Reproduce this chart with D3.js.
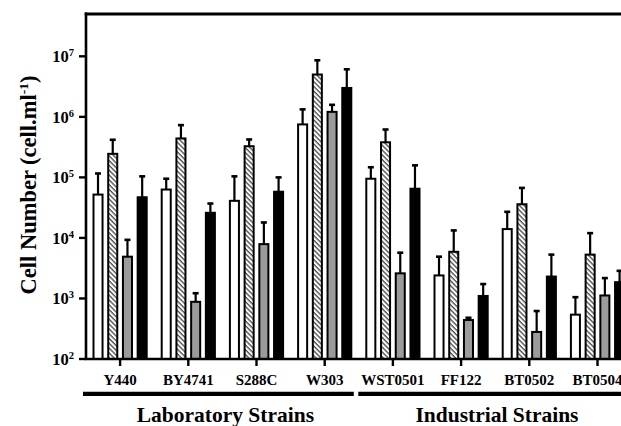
<!DOCTYPE html>
<html>
<head>
<meta charset="utf-8">
<script src="https://cdn.jsdelivr.net/npm/d3@7"></script>
<style>
  html, body { margin: 0; padding: 0; background: #fff; }
  svg { display: block; }
  text { font-family: "Liberation Serif", "Times New Roman", serif; font-weight: bold; fill: #000; }
</style>
</head>
<body>
<div id="chart"></div>
<script>
// Strains (x categories)
const strains = ["Y440", "BY4741", "S288C", "W303", "WST0501", "FF122", "BT0502", "BT0504"];
const series = ["white", "hatched", "grey", "black"];

// Mean cell numbers (cell/ml), per series
const whiteVals   = [52000, 63000, 41000, 750000, 95000, 2400, 14000, 540];
const hatchedVals = [245000, 440000, 327000, 5000000, 380000, 5900, 36000, 5300];
const greyVals    = [4900, 880, 7900, 1210000, 2600, 440, 280, 1120];
const blackVals   = [47000, 26000, 58000, 3000000, 65000, 1100, 2300, 1860];

// Upper end of the error bars
const whiteErr   = [116000, 95000, 104000, 1330000, 147000, 4900, 27000, 1050];
const hatchedErr = [418000, 730000, 423000, 8600000, 618000, 13300, 67000, 12000];
const greyErr    = [9300, 1220, 18000, 1580000, 5700, 480, 620, 2170];
const blackErr   = [104000, 37000, 100000, 6100000, 158000, 1730, 5300, 2860];

const yTicks = [2, 3, 4, 5, 6, 7];
const groups = [
  {label: "Laboratory Strains", from: "Y440", to: "W303"},
  {label: "Industrial Strains", from: "WST0501", to: "BT0504"}
];

const W = 621, H = 426;
const svg = d3.select("#chart").append("svg")
  .attr("width", W).attr("height", H);

const defs = svg.append("defs");
const pat = defs.append("pattern")
  .attr("id", "hatch")
  .attr("patternUnits", "userSpaceOnUse")
  .attr("width", 3.4).attr("height", 3.4)
  .attr("patternTransform", "rotate(-45)");
pat.append("rect").attr("width", 3.4).attr("height", 3.4).attr("fill", "#fff");
pat.append("line")
  .attr("x1", 1).attr("y1", 0).attr("x2", 1).attr("y2", 3.4)
  .attr("stroke", "#444").attr("stroke-width", 1.3);

// Scales
const plotLeft = 86, plotTop = 14, plotBottom = 359;
const step = 68.2;
const x = d3.scaleBand().domain(strains).range([plotLeft, plotLeft + step * strains.length]);
const xInner = d3.scaleBand().domain(series).range([6.5, step - 6.5]).paddingInner(0.25);
const y = d3.scaleLog().domain([100, 5e7]).range([plotBottom, plotTop]);

const fills = {white: "#fff", hatched: "url(#hatch)", grey: "#9b9b9b", black: "#000"};
const vals = {white: whiteVals, hatched: hatchedVals, grey: greyVals, black: blackVals};
const errs = {white: whiteErr, hatched: hatchedErr, grey: greyErr, black: blackErr};

const bars = [];
strains.forEach((s, i) => {
  series.forEach(k => bars.push({strain: s, key: k, value: vals[k][i], upper: errs[k][i]}));
});
const cx = d => x(d.strain) + xInner(d.key) + xInner.bandwidth() / 2;

// Error bars (drawn first so the bar outline sits on top)
const eb = svg.append("g");
eb.selectAll("line.stem").data(bars).enter().append("line")
  .attr("x1", cx).attr("x2", cx)
  .attr("y1", d => y(d.value))
  .attr("y2", d => y(d.upper))
  .attr("stroke", "#000").attr("stroke-width", 2.2);
eb.selectAll("line.cap").data(bars).enter().append("line")
  .attr("x1", d => cx(d) - 3)
  .attr("x2", d => cx(d) + 3)
  .attr("y1", d => y(d.upper))
  .attr("y2", d => y(d.upper))
  .attr("stroke", "#000").attr("stroke-width", 2.6);

// Bars
svg.append("g").selectAll("rect").data(bars).enter().append("rect")
  .attr("x", d => x(d.strain) + xInner(d.key) + 1)
  .attr("width", xInner.bandwidth() - 2)
  .attr("y", d => y(d.value))
  .attr("height", d => y(100) - y(d.value))
  .attr("fill", d => fills[d.key])
  .attr("stroke", "#000").attr("stroke-width", 2);

// Axes
const ax = svg.append("g").attr("stroke", "#000");
ax.append("line").attr("x1", plotLeft).attr("x2", plotLeft).attr("y1", plotTop - 1.5).attr("y2", plotBottom + 1)
  .attr("stroke-width", 2.6);
ax.append("line").attr("x1", plotLeft - 1.3).attr("x2", W).attr("y1", plotTop).attr("y2", plotTop)
  .attr("stroke-width", 3);
ax.append("line").attr("x1", plotLeft - 1.3).attr("x2", W).attr("y1", plotBottom).attr("y2", plotBottom)
  .attr("stroke-width", 2.6);

// y ticks
yTicks.forEach(p => {
  const yy = y(Math.pow(10, p));
  ax.append("line").attr("x1", plotLeft - 7).attr("x2", plotLeft).attr("y1", yy).attr("y2", yy)
    .attr("stroke-width", 2.4);
  const t = svg.append("text")
    .attr("x", 74).attr("y", yy + 6)
    .attr("text-anchor", "end")
    .style("font-size", "16.5px");
  t.append("tspan").text("10");
  t.append("tspan").attr("dy", -6).style("font-size", "10.5px").text(p);
});

// x ticks and labels
strains.forEach(s => {
  const xx = x(s) + x.bandwidth() / 2;
  ax.append("line").attr("x1", xx).attr("x2", xx).attr("y1", plotBottom).attr("y2", plotBottom + 7)
    .attr("stroke-width", 2.4);
  svg.append("text")
    .attr("x", xx).attr("y", 384.5)
    .attr("text-anchor", "middle")
    .style("font-size", "15px")
    .text(s);
});

// Group brackets
groups.forEach((g, i) => {
  const x1 = i === 0 ? plotLeft - 3 : x(g.from) - 0.5;
  const x2 = i === 0 ? x(g.to) + x.bandwidth() - 5 : x(g.to) + x.bandwidth();
  svg.append("line").attr("x1", x1).attr("x2", x2).attr("y1", 393.8).attr("y2", 393.8)
    .attr("stroke", "#000").attr("stroke-width", 4.2);
  svg.append("text")
    .attr("x", (x1 + x2) / 2 + (i === 0 ? 7 : 2)).attr("y", 421.5)
    .attr("text-anchor", "middle")
    .style("font-size", "21.5px")
    .text(g.label);
});

// y label
const yl = svg.append("text")
  .attr("transform", "translate(35.5,185) rotate(-90)")
  .attr("text-anchor", "middle")
  .style("font-size", "22.5px");
yl.append("tspan").text("Cell Number (cell.ml");
yl.append("tspan").attr("dy", -8).style("font-size", "13.5px").text("-1");
yl.append("tspan").attr("dy", 8).text(")");
</script>
</body>
</html>
